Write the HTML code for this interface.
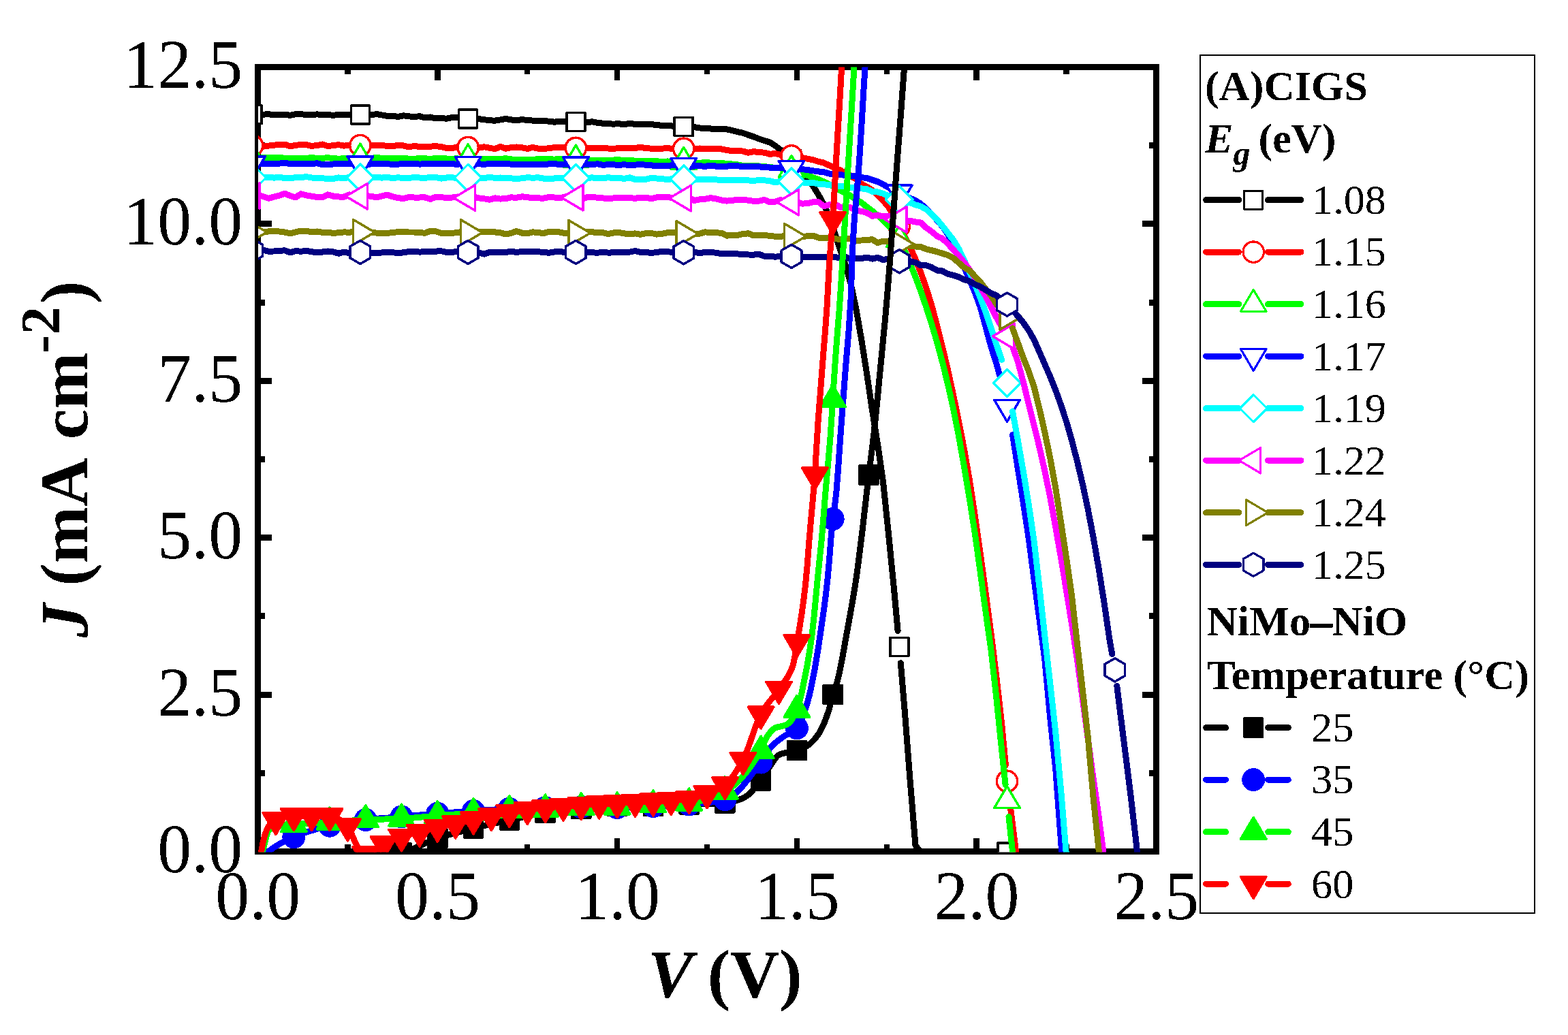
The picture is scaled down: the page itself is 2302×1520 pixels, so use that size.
<!DOCTYPE html>
<html lang="en"><head><meta charset="utf-8"><title>J-V curves</title>
<style>html,body{margin:0;padding:0;background:#fff}svg{display:block}text{font-family:"Liberation Serif",serif;fill:#000}</style></head><body>
<svg width="2302" height="1520" viewBox="0 0 2302 1520">
<rect width="2302" height="1520" fill="#fff"/>
<defs><filter id="bin" filterUnits="userSpaceOnUse" x="0" y="0" width="2302" height="1520" color-interpolation-filters="sRGB"><feComponentTransfer><feFuncA type="discrete" tableValues="0 1"/></feComponentTransfer></filter><clipPath id="plot"><rect x="379.0" y="98.5" width="1318.5" height="1153.0"/></clipPath></defs>
<g shape-rendering="crispEdges" fill="none" stroke="#000">
<rect x="378.5" y="98.5" width="1319.0" height="1152.0" stroke-width="9.0"/>
<path d="M378.5,1250.5v-19.5M378.5,98.5v19.5M510.4,1250.5v-10.3M510.4,98.5v10.3M642.3,1250.5v-19.5M642.3,98.5v19.5M774.2,1250.5v-10.3M774.2,98.5v10.3M906.1,1250.5v-19.5M906.1,98.5v19.5M1038,1250.5v-10.3M1038,98.5v10.3M1169.9,1250.5v-19.5M1169.9,98.5v19.5M1301.8,1250.5v-10.3M1301.8,98.5v10.3M1433.7,1250.5v-19.5M1433.7,98.5v19.5M1565.6,1250.5v-10.3M1565.6,98.5v10.3M1697.5,1250.5v-19.5M1697.5,98.5v19.5" stroke-width="8.5"/>
<path d="M378.5,1250.5h20.5M1697.5,1250.5h-20.5M378.5,1135.3h10.5M1697.5,1135.3h-10.5M378.5,1020.1h20.5M1697.5,1020.1h-20.5M378.5,904.9h10.5M1697.5,904.9h-10.5M378.5,789.7h20.5M1697.5,789.7h-20.5M378.5,674.5h10.5M1697.5,674.5h-10.5M378.5,559.3h20.5M1697.5,559.3h-20.5M378.5,444.1h10.5M1697.5,444.1h-10.5M378.5,328.9h20.5M1697.5,328.9h-20.5M378.5,213.7h10.5M1697.5,213.7h-10.5M378.5,98.5h20.5M1697.5,98.5h-20.5" stroke-width="9"/>
</g>
<g clip-path="url(#plot)" shape-rendering="crispEdges">
<path d="M378.5,168.2 386.4,168.1 394.3,167.8 402.2,168.6 410.2,168.2 418.1,168.1 426,169.4 433.9,167.7 441.8,167.6 449.7,168.6 457.6,168.4 465.6,167.9 473.5,168.4 481.4,168.5 489.3,169.4 497.2,168.2 505.1,168.3 513,168.3 521,169.5M536.8,168.3 544.7,169 552.6,167.5 560.5,168.9 568.4,170.4 576.4,170.1 584.3,171.6 592.2,169.8 600.1,170.8 608,171.6 615.9,170.7 623.8,172.8 631.7,172 639.7,173.9 647.6,173.6 655.5,174.2 663.4,172.7 671.3,172.5 679.2,174.3M695.1,174.8 703,174.7 710.9,175.7 718.8,176.8 726.7,177.2 734.6,175.9 742.5,174.5 750.5,175.9 758.4,176.9 766.3,175.5 774.2,176.6 782.1,177.1 790,177.2 797.9,177.7 805.9,178.1 813.8,179.2 821.7,178.2 829.6,178.6 837.5,178M853.3,180.8 861.3,180 869.2,178.8 877.1,180.3 885,181.2 892.9,181.8 900.8,182.1 908.7,181.8 916.7,182.7 924.6,181.2 932.5,182.5 940.4,182.8 948.3,182.2 956.2,182.3 964.1,183.9 972.1,184.1 980,184.2 987.9,185.2 995.8,186.9M1011.6,185.8 1019.5,186.6 1027.4,188 1035.4,188.2 1043.3,189 1051.2,189.6 1059.1,189.2 1067,189.8 1074.9,191.6 1082.8,193.5 1090.8,195.4 1098.7,198.2 1106.6,200.8 1114.5,204 1122.4,206.7 1130.3,209 1138.2,214.1 1146.2,220.3 1154.1,226.9M1169.9,242.8 1177.8,252.1 1185.7,262.8 1193.6,273.2 1201.6,286 1209.5,300.2 1217.4,318.6 1225.3,341.7 1233.2,365.5 1241.1,388.8 1249,416.4 1257,454.3 1264.9,500 1272.8,549.9 1280.7,603.9 1288.6,652.8 1296.5,707.3 1304.4,783.4 1312.4,864 1318.1,926.5M1322.3,973.7 1328.2,1043.7 1336.1,1145.7 1344,1241.6 1351.9,1251.5 1359.8,1250.9 1367.8,1251 1375.7,1251.1 1383.6,1250.7 1391.5,1251.1 1399.4,1251.8 1407.3,1251.8 1415.2,1251.8 1423.1,1251.3 1431.1,1252.2 1439,1252.8 1446.9,1251.6 1454.8,1252.4 1462.7,1253 1470.6,1251.4M1486.5,1251.2 1494.4,1251.7 1502.3,1252.3 1510.2,1252.4 1518.1,1251.9 1526,1251.7 1533.9,1252 1541.9,1251.7" fill="none" stroke="#000000" stroke-width="9.0" stroke-linejoin="round" stroke-linecap="round"/>
<path d="M357.1,154.6L384.1,154.6L384.1,181.6L357.1,181.6Z" fill="#fff" stroke="#000000" stroke-width="3.5" stroke-linejoin="round"/>
<path d="M515.4,155L542.4,155L542.4,182L515.4,182Z" fill="#fff" stroke="#000000" stroke-width="3.5" stroke-linejoin="round"/>
<path d="M673.6,161L700.6,161L700.6,188L673.6,188Z" fill="#fff" stroke="#000000" stroke-width="3.5" stroke-linejoin="round"/>
<path d="M831.9,165.6L858.9,165.6L858.9,192.6L831.9,192.6Z" fill="#fff" stroke="#000000" stroke-width="3.5" stroke-linejoin="round"/>
<path d="M990.2,172.6L1017.2,172.6L1017.2,199.6L990.2,199.6Z" fill="#fff" stroke="#000000" stroke-width="3.5" stroke-linejoin="round"/>
<path d="M1148.5,220.8L1175.5,220.8L1175.5,247.8L1148.5,247.8Z" fill="#fff" stroke="#000000" stroke-width="3.5" stroke-linejoin="round"/>
<path d="M1306.8,936.6L1333.8,936.6L1333.8,963.6L1306.8,963.6Z" fill="#fff" stroke="#000000" stroke-width="3.5" stroke-linejoin="round"/>
<path d="M1465,1237.9L1492,1237.9L1492,1264.9L1465,1264.9Z" fill="#fff" stroke="#000000" stroke-width="3.5" stroke-linejoin="round"/>
<path d="M378.5,213.9 386.4,215.2 394.3,214.1 402.2,213.1 410.2,212.7 418.1,212.1 426,214.8 433.9,213.3 441.8,212.5 449.7,212.7 457.6,214.4 465.6,213.5 473.5,212 481.4,214.7 489.3,213.5 497.2,212.7 505.1,214.1 513,213.3 521,214.5M536.8,214.5 544.7,213.7 552.6,213.9 560.5,213.1 568.4,214.7 576.4,214.5 584.3,213.6 592.2,213.9 600.1,215.8 608,214.5 615.9,215.4 623.8,215 631.7,215.2 639.7,214.6 647.6,215.6 655.5,217.6 663.4,217.6 671.3,215.9 679.2,216.5M695.1,216.1 703,217.2 710.9,215.8 718.8,217.2 726.7,218.7 734.6,215.3 742.5,218.2 750.5,216.6 758.4,216 766.3,216.7 774.2,218.5 782.1,216.4 790,218.2 797.9,218.5 805.9,217.7 813.8,216.6 821.7,216.9 829.6,216.6 837.5,217.6M853.3,218.4 861.3,217.9 869.2,217 877.1,217.7 885,217.2 892.9,218 900.8,218.2 908.7,217.7 916.7,217.9 924.6,217.3 932.5,217.5 940.4,216.3 948.3,217.8 956.2,218.1 964.1,218.9 972.1,218.2 980,217.5 987.9,218.7 995.8,218.4M1011.6,218.4 1019.5,219 1027.4,218 1035.4,218.8 1043.3,219 1051.2,218.6 1059.1,218.9 1067,220.6 1074.9,221.5 1082.8,221.3 1090.8,222.1 1098.7,224.3 1106.6,222.5 1114.5,223.8 1122.4,224.1 1130.3,226.4 1138.2,225.4 1146.2,227.4 1154.1,228.2M1169.9,230.4 1177.8,231.6 1185.7,233.3 1193.6,234.8 1201.6,237.3 1209.5,239.1 1217.4,242.9 1225.3,246.5 1233.2,249.8 1241.1,254 1249,258.3 1257,263.3 1264.9,270.2 1272.8,274.4 1280.7,279.4 1288.6,286.6 1296.5,294.6 1304.4,303.8 1312.4,317.6M1328.2,347.3 1336.1,362.7 1344,380.6 1351.9,400.5 1359.8,422.6 1367.8,448.5 1375.7,478 1383.6,509.4 1391.5,543 1399.4,579.1 1407.3,617.6 1415.2,658.2 1423.1,703.1 1431.1,755.6 1439,811.3 1446.9,869.2 1454.8,928.9 1462.7,992.3 1470.6,1062.1 1476.4,1123.7M1481.5,1170.8 1486.5,1210.1 1494.4,1272.7 1502.3,1342.6" fill="none" stroke="#ff0000" stroke-width="9.0" stroke-linejoin="round" stroke-linecap="round"/>
<path d="M355.4,213.7a15.2,15.2 0 1,0 30.4,0a15.2,15.2 0 1,0 -30.4,0Z" fill="#fff" stroke="#ff0000" stroke-width="3.5" stroke-linejoin="round"/>
<path d="M513.7,213.7a15.2,15.2 0 1,0 30.4,0a15.2,15.2 0 1,0 -30.4,0Z" fill="#fff" stroke="#ff0000" stroke-width="3.5" stroke-linejoin="round"/>
<path d="M671.9,216.5a15.2,15.2 0 1,0 30.4,0a15.2,15.2 0 1,0 -30.4,0Z" fill="#fff" stroke="#ff0000" stroke-width="3.5" stroke-linejoin="round"/>
<path d="M830.2,217.4a15.2,15.2 0 1,0 30.4,0a15.2,15.2 0 1,0 -30.4,0Z" fill="#fff" stroke="#ff0000" stroke-width="3.5" stroke-linejoin="round"/>
<path d="M988.5,218.3a15.2,15.2 0 1,0 30.4,0a15.2,15.2 0 1,0 -30.4,0Z" fill="#fff" stroke="#ff0000" stroke-width="3.5" stroke-linejoin="round"/>
<path d="M1146.8,228.9a15.2,15.2 0 1,0 30.4,0a15.2,15.2 0 1,0 -30.4,0Z" fill="#fff" stroke="#ff0000" stroke-width="3.5" stroke-linejoin="round"/>
<path d="M1305.1,332.6a15.2,15.2 0 1,0 30.4,0a15.2,15.2 0 1,0 -30.4,0Z" fill="#fff" stroke="#ff0000" stroke-width="3.5" stroke-linejoin="round"/>
<path d="M1463.3,1147.3a15.2,15.2 0 1,0 30.4,0a15.2,15.2 0 1,0 -30.4,0Z" fill="#fff" stroke="#ff0000" stroke-width="3.5" stroke-linejoin="round"/>
<path d="M378.5,232.4 386.4,231.7 394.3,231.2 402.2,232 410.2,231.4 418.1,232.3 426,232.1 433.9,232.2 441.8,233 449.7,232.2 457.6,231.8 465.6,232.2 473.5,232.3 481.4,231.6 489.3,232.8 497.2,233.1 505.1,232.8 513,233 521,231.9M536.8,232.8 544.7,232.8 552.6,231.2 560.5,232.6 568.4,232.9 576.4,232.5 584.3,232.3 592.2,232.5 600.1,233.1 608,233.3 615.9,232.5 623.8,232.7 631.7,233.6 639.7,232.4 647.6,232.4 655.5,233 663.4,233.1 671.3,232.9 679.2,233.4M695.1,233.1 703,233.9 710.9,233.2 718.8,234 726.7,233.6 734.6,233.5 742.5,232.7 750.5,233.9 758.4,234.4 766.3,234.1 774.2,234.3 782.1,234.2 790,233.8 797.9,233.6 805.9,233.2 813.8,234.3 821.7,233 829.6,233.1 837.5,234.3M853.3,234.8 861.3,234.6 869.2,235.8 877.1,235 885,235 892.9,235.4 900.8,235 908.7,234.8 916.7,235.6 924.6,235.6 932.5,236.1 940.4,236.4 948.3,236.2 956.2,236.1 964.1,236.7 972.1,237.8 980,236.9 987.9,237.9 995.8,237.5M1011.6,237.8 1019.5,238.8 1027.4,239.3 1035.4,238.4 1043.3,239.1 1051.2,239.3 1059.1,239.5 1067,240.3 1074.9,241 1082.8,241.8 1090.8,243.5 1098.7,243.5 1106.6,243.4 1114.5,244 1122.4,244.6 1130.3,245.6 1138.2,246.4 1146.2,247.1 1154.1,248.9M1169.9,252.3 1177.8,254.2 1185.7,257.7 1193.6,260.7 1201.6,263.4 1209.5,266.9 1217.4,271 1225.3,274.6 1233.2,279.6 1241.1,283.3 1249,287.8 1257,293.5 1264.9,297.7 1272.8,304 1280.7,309.8 1288.6,316.5 1296.5,323.3 1304.4,331.2 1312.4,341.1M1328.2,368 1336.1,387.4 1344,406.7 1351.9,427.9 1359.8,451 1367.8,476.1 1375.7,502.9 1383.6,532.1 1391.5,564.1 1399.4,599.4 1407.3,639.2 1415.2,683.7 1423.1,730.9 1431.1,781.9 1439,838.8 1446.9,897.3 1454.8,953.1 1462.7,1023.6 1470.6,1100.9 1476.1,1152.3M1481,1199.4 1486.5,1250.5 1494.4,1320.4" fill="none" stroke="#00ff00" stroke-width="9.0" stroke-linejoin="round" stroke-linecap="round"/>
<path d="M370.6,211L389.3,242.7L351.8,242.7Z" fill="#fff" stroke="#00ff00" stroke-width="3.5" stroke-linejoin="round"/>
<path d="M528.9,211.2L547.6,243L510.1,243Z" fill="#fff" stroke="#00ff00" stroke-width="3.5" stroke-linejoin="round"/>
<path d="M687.1,211.9L705.9,243.7L668.4,243.7Z" fill="#fff" stroke="#00ff00" stroke-width="3.5" stroke-linejoin="round"/>
<path d="M845.4,213.3L864.2,245L826.7,245Z" fill="#fff" stroke="#00ff00" stroke-width="3.5" stroke-linejoin="round"/>
<path d="M1003.7,216.5L1022.5,248.2L985,248.2Z" fill="#fff" stroke="#00ff00" stroke-width="3.5" stroke-linejoin="round"/>
<path d="M1162,228.5L1180.7,260.2L1143.2,260.2Z" fill="#fff" stroke="#00ff00" stroke-width="3.5" stroke-linejoin="round"/>
<path d="M1320.3,330.8L1339,362.5L1301.5,362.5Z" fill="#fff" stroke="#00ff00" stroke-width="3.5" stroke-linejoin="round"/>
<path d="M1478.5,1154.7L1497.3,1186.4L1459.8,1186.4Z" fill="#fff" stroke="#00ff00" stroke-width="3.5" stroke-linejoin="round"/>
<path d="M378.5,240.2 386.4,240.3 394.3,240.6 402.2,240.7 410.2,240.1 418.1,239.3 426,240.6 433.9,240.3 441.8,240.6 449.7,240.1 457.6,240.2 465.6,239.9 473.5,241.7 481.4,241 489.3,241 497.2,240.6 505.1,240.9 513,240.9 521,240.3M536.8,241.7 544.7,240.9 552.6,240.4 560.5,240.6 568.4,240.8 576.4,241.3 584.3,241.2 592.2,240.4 600.1,240.1 608,240.5 615.9,241.1 623.8,240.7 631.7,240.8 639.7,240.5 647.6,240.6 655.5,241 663.4,240.7 671.3,241.3 679.2,240.5M695.1,241.3 703,240.8 710.9,241.3 718.8,240.5 726.7,240.4 734.6,241 742.5,240.5 750.5,241.1 758.4,241.4 766.3,241.4 774.2,241.2 782.1,241.3 790,241.1 797.9,241.5 805.9,240.9 813.8,240.7 821.7,241.4 829.6,242 837.5,241.1M853.3,241.4 861.3,242 869.2,241.5 877.1,240.8 885,242.4 892.9,241.6 900.8,241.9 908.7,242.3 916.7,241.8 924.6,242.6 932.5,242.1 940.4,241.6 948.3,242.2 956.2,242.9 964.1,243.5 972.1,243.5 980,243.8 987.9,242.3 995.8,243.1M1011.6,244 1019.5,244 1027.4,243.8 1035.4,244.3 1043.3,243.1 1051.2,244.1 1059.1,244.5 1067,244.1 1074.9,243.6 1082.8,243.7 1090.8,244.7 1098.7,244.7 1106.6,244.9 1114.5,244.9 1122.4,245.3 1130.3,246.1 1138.2,246.6 1146.2,246.2 1154.1,247.1M1169.9,247.3 1177.8,248.7 1185.7,249.5 1193.6,250.8 1201.6,251.9 1209.5,252.7 1217.4,255 1225.3,256.5 1233.2,256.5 1241.1,257.5 1249,258.3 1257,259.1 1264.9,260.6 1272.8,261.6 1280.7,264.3 1288.6,266.9 1296.5,270.9 1304.4,275.1 1312.4,278.6M1328.2,287.3 1336.1,290.9 1344,294.5 1351.9,299.4 1359.8,306.7 1367.8,314.5 1375.7,323.5 1383.6,332.5 1391.5,344.2 1399.4,357.2 1407.3,373.5 1415.2,391.8 1423.1,410.5 1431.1,428.9 1439,450.5 1446.9,479.2 1454.8,508.8 1462.7,533.4 1470.6,562.2M1486.5,638.5 1494.4,688.7 1502.3,738.5 1510.2,790.4 1518.1,851.1 1526,910.1 1533.9,969.3 1541.9,1056 1549.8,1130.2 1557.7,1237.4 1565.6,1342.7" fill="none" stroke="#0000ff" stroke-width="9.0" stroke-linejoin="round" stroke-linecap="round"/>
<path d="M370.6,261.6L351.8,229.8L389.3,229.8Z" fill="#fff" stroke="#0000ff" stroke-width="3.5" stroke-linejoin="round"/>
<path d="M528.9,261.7L510.1,229.9L547.6,229.9Z" fill="#fff" stroke="#0000ff" stroke-width="3.5" stroke-linejoin="round"/>
<path d="M687.1,262L668.4,230.3L705.9,230.3Z" fill="#fff" stroke="#0000ff" stroke-width="3.5" stroke-linejoin="round"/>
<path d="M845.4,262.5L826.7,230.8L864.2,230.8Z" fill="#fff" stroke="#0000ff" stroke-width="3.5" stroke-linejoin="round"/>
<path d="M1003.7,264.4L985,232.6L1022.5,232.6Z" fill="#fff" stroke="#0000ff" stroke-width="3.5" stroke-linejoin="round"/>
<path d="M1162,268L1143.2,236.3L1180.7,236.3Z" fill="#fff" stroke="#0000ff" stroke-width="3.5" stroke-linejoin="round"/>
<path d="M1320.3,304L1301.5,272.2L1339,272.2Z" fill="#fff" stroke="#0000ff" stroke-width="3.5" stroke-linejoin="round"/>
<path d="M1478.5,619.2L1459.8,587.4L1497.3,587.4Z" fill="#fff" stroke="#0000ff" stroke-width="3.5" stroke-linejoin="round"/>
<path d="M378.5,260.4 386.4,260.9 394.3,260.2 402.2,261.1 410.2,260.5 418.1,261.4 426,261.8 433.9,260.7 441.8,260.7 449.7,259.6 457.6,261 465.6,261 473.5,261.8 481.4,262.5 489.3,262.5 497.2,260.9 505.1,261.8 513,260.4 521,259.9M536.8,259.9 544.7,260.7 552.6,260.3 560.5,261.1 568.4,260.4 576.4,261.6 584.3,260.8 592.2,261.4 600.1,261.3 608,260.7 615.9,261 623.8,261.2 631.7,260.7 639.7,260.5 647.6,262.1 655.5,261 663.4,260.7 671.3,261.7 679.2,261.1M695.1,260.4 703,261.3 710.9,261.4 718.8,260.5 726.7,261.3 734.6,261 742.5,262 750.5,261.9 758.4,262.5 766.3,261.8 774.2,260.7 782.1,261.2 790,260.8 797.9,262.1 805.9,262.3 813.8,262 821.7,261.2 829.6,261.3 837.5,261.6M853.3,261.7 861.3,261.7 869.2,260.8 877.1,262 885,261.7 892.9,260.7 900.8,261.6 908.7,261.4 916.7,262.4 924.6,260.8 932.5,263.5 940.4,263.3 948.3,263.2 956.2,261.4 964.1,262 972.1,262.7 980,263.6 987.9,262.6 995.8,262.7M1011.6,264.1 1019.5,264.1 1027.4,263.2 1035.4,263.1 1043.3,263.4 1051.2,263.7 1059.1,265 1067,264 1074.9,264.7 1082.8,264.3 1090.8,264 1098.7,264.9 1106.6,265.5 1114.5,264.4 1122.4,264.8 1130.3,265.8 1138.2,267.8 1146.2,266.3 1154.1,265.8M1169.9,267.2 1177.8,267.9 1185.7,268.4 1193.6,268.2 1201.6,270.2 1209.5,270.6 1217.4,271.9 1225.3,272 1233.2,274 1241.1,273.8 1249,275.2 1257,276.2 1264.9,276.9 1272.8,277.8 1280.7,281.3 1288.6,282 1296.5,284.4 1304.4,287.7 1312.4,289.4M1328.2,294.4 1336.1,297.7 1344,300.8 1351.9,303.1 1359.8,307.5 1367.8,314.8 1375.7,322.6 1383.6,331.9 1391.5,342 1399.4,352 1407.3,364.9 1415.2,381.7 1423.1,398.6 1431.1,417.2 1439,436.9 1446.9,457.9 1454.8,481.2 1462.7,505.4 1470.6,528.4M1486.5,603.9 1494.4,646.9 1502.3,692.3 1510.2,740.2 1518.1,794.5 1526,862.9 1533.9,934.6 1541.9,1005.1 1549.8,1076 1557.7,1161.3 1565.6,1257.2 1573.5,1365.2" fill="none" stroke="#00ffff" stroke-width="9.0" stroke-linejoin="round" stroke-linecap="round"/>
<path d="M370.6,241.1L390.5,261L370.6,280.9L350.7,261Z" fill="#fff" stroke="#00ffff" stroke-width="3.5" stroke-linejoin="round"/>
<path d="M528.9,241.2L548.8,261.1L528.9,281L509,261.1Z" fill="#fff" stroke="#00ffff" stroke-width="3.5" stroke-linejoin="round"/>
<path d="M687.1,241.4L707,261.3L687.1,281.2L667.2,261.3Z" fill="#fff" stroke="#00ffff" stroke-width="3.5" stroke-linejoin="round"/>
<path d="M845.4,241.7L865.3,261.6L845.4,281.5L825.5,261.6Z" fill="#fff" stroke="#00ffff" stroke-width="3.5" stroke-linejoin="round"/>
<path d="M1003.7,243L1023.6,262.9L1003.7,282.8L983.8,262.9Z" fill="#fff" stroke="#00ffff" stroke-width="3.5" stroke-linejoin="round"/>
<path d="M1162,246.6L1181.9,266.5L1162,286.4L1142.1,266.5Z" fill="#fff" stroke="#00ffff" stroke-width="3.5" stroke-linejoin="round"/>
<path d="M1320.3,273.1L1340.2,293L1320.3,312.9L1300.4,293Z" fill="#fff" stroke="#00ffff" stroke-width="3.5" stroke-linejoin="round"/>
<path d="M1478.5,542.6L1498.4,562.5L1478.5,582.4L1458.6,562.5Z" fill="#fff" stroke="#00ffff" stroke-width="3.5" stroke-linejoin="round"/>
<path d="M378.5,286.5 386.4,288.6 394.3,291.3 402.2,289.1 410.2,287.1 418.1,284.2 426,287.6 433.9,289.9 441.8,284.8 449.7,286.9 457.6,288.2 465.6,289.6 473.5,289.8 481.4,285.9 489.3,288.1 497.2,289 505.1,289.1 513,285.9 521,288.8M536.8,287.8 544.7,288.1 552.6,289.9 560.5,288 568.4,286.2 576.4,288.7 584.3,290.6 592.2,291.6 600.1,289.5 608,290 615.9,290 623.8,289.9 631.7,292.4 639.7,289.3 647.6,289.7 655.5,290.4 663.4,290.1 671.3,289 679.2,290.2M695.1,289 703,290.9 710.9,291.8 718.8,293.2 726.7,290.9 734.6,292.1 742.5,291.6 750.5,289.9 758.4,290.2 766.3,288.8 774.2,289.6 782.1,290.9 790,290.9 797.9,291.2 805.9,289.4 813.8,290 821.7,290.9 829.6,289 837.5,289.8M853.3,292.7 861.3,289.9 869.2,289.7 877.1,290.1 885,290.9 892.9,291.7 900.8,290.9 908.7,290.1 916.7,290.5 924.6,290.7 932.5,291.3 940.4,290.2 948.3,290.2 956.2,291.8 964.1,289.8 972.1,289.4 980,289.4 987.9,290.9 995.8,291.4M1011.6,290.3 1019.5,294.5 1027.4,292.7 1035.4,292.3 1043.3,290.6 1051.2,291.9 1059.1,293.9 1067,295.1 1074.9,294.4 1082.8,293.3 1090.8,293.4 1098.7,294.2 1106.6,295.4 1114.5,295.1 1122.4,293.5 1130.3,296.9 1138.2,296.1 1146.2,293.7 1154.1,295.4M1169.9,296.7 1177.8,299.1 1185.7,298.8 1193.6,296.8 1201.6,296.6 1209.5,302.8 1217.4,300.9 1225.3,299.3 1233.2,304.1 1241.1,305.1 1249,304.8 1257,309.4 1264.9,310.3 1272.8,312.6 1280.7,317.3 1288.6,316 1296.5,317.9 1304.4,317.9 1312.4,317.4M1328.2,324.1 1336.1,324.3 1344,325.9 1351.9,327.1 1359.8,334.5 1367.8,340.1 1375.7,346.8 1383.6,350.4 1391.5,357.9 1399.4,366.5 1407.3,375.4 1415.2,384.8 1423.1,395.7 1431.1,407.7 1439,421.6 1446.9,434.8 1454.8,450 1462.7,465.9 1470.6,480.2M1486.5,508.9 1494.4,531.4 1502.3,560.9 1510.2,593.1 1518.1,624.9 1526,657 1533.9,691.9 1541.9,731.1 1549.8,774.8 1557.7,820.1 1565.6,867.7 1573.5,916.6 1581.4,968.2 1589.3,1025.9 1597.3,1085.3 1605.2,1144.1 1613.1,1199.4 1621,1259.7 1628.9,1342.7" fill="none" stroke="#ff00ff" stroke-width="9.0" stroke-linejoin="round" stroke-linecap="round"/>
<path d="M349.4,287.4L381.2,268.7L381.2,306.2Z" fill="#fff" stroke="#ff00ff" stroke-width="3.5" stroke-linejoin="round"/>
<path d="M507.7,288.3L539.4,269.6L539.4,307.1Z" fill="#fff" stroke="#ff00ff" stroke-width="3.5" stroke-linejoin="round"/>
<path d="M666,290.6L697.7,271.8L697.7,309.3Z" fill="#fff" stroke="#ff00ff" stroke-width="3.5" stroke-linejoin="round"/>
<path d="M824.3,290.2L856,271.4L856,308.9Z" fill="#fff" stroke="#ff00ff" stroke-width="3.5" stroke-linejoin="round"/>
<path d="M982.5,291.1L1014.3,272.4L1014.3,309.9Z" fill="#fff" stroke="#ff00ff" stroke-width="3.5" stroke-linejoin="round"/>
<path d="M1140.8,297.1L1172.6,278.4L1172.6,315.9Z" fill="#fff" stroke="#ff00ff" stroke-width="3.5" stroke-linejoin="round"/>
<path d="M1299.1,322.4L1330.8,303.7L1330.8,341.2Z" fill="#fff" stroke="#ff00ff" stroke-width="3.5" stroke-linejoin="round"/>
<path d="M1457.4,493.9L1489.1,475.1L1489.1,512.6Z" fill="#fff" stroke="#ff00ff" stroke-width="3.5" stroke-linejoin="round"/>
<path d="M378.5,341.9 386.4,341.2 394.3,339.9 402.2,339.8 410.2,340 418.1,341.1 426,342.8 433.9,340.9 441.8,339 449.7,339.3 457.6,340.9 465.6,340 473.5,341.3 481.4,341.1 489.3,342.5 497.2,341.7 505.1,340.9 513,341.2 521,340.1M536.8,339 544.7,341.2 552.6,342.1 560.5,342.1 568.4,342.5 576.4,341.4 584.3,340.7 592.2,340.9 600.1,341 608,341 615.9,341.4 623.8,342.3 631.7,339.3 639.7,339.7 647.6,342.3 655.5,342.8 663.4,342.4 671.3,341.6 679.2,339.9M695.1,340 703,340 710.9,340 718.8,340.5 726.7,340.9 734.6,341.8 742.5,344 750.5,342.3 758.4,339.6 766.3,342.1 774.2,342.8 782.1,340.8 790,341.6 797.9,342.6 805.9,340.2 813.8,340.9 821.7,341 829.6,342.6 837.5,341.6M853.3,341.1 861.3,340.6 869.2,340.6 877.1,341.9 885,341.5 892.9,343.7 900.8,341.9 908.7,341.5 916.7,342.9 924.6,343.7 932.5,342.9 940.4,344.3 948.3,342.7 956.2,342.4 964.1,344.1 972.1,343.2 980,341.8 987.9,341.6 995.8,341.8M1011.6,343.9 1019.5,344.1 1027.4,343 1035.4,340.8 1043.3,341.7 1051.2,341.8 1059.1,342.2 1067,346.2 1074.9,345.3 1082.8,345.4 1090.8,343.6 1098.7,342.8 1106.6,345.9 1114.5,345.8 1122.4,345.2 1130.3,346.6 1138.2,347.2 1146.2,347.6 1154.1,345.9M1169.9,346.1 1177.8,347.2 1185.7,346.9 1193.6,346.1 1201.6,349 1209.5,350 1217.4,348.8 1225.3,350.8 1233.2,351.2 1241.1,350.8 1249,350.9 1257,353.1 1264.9,353 1272.8,352.3 1280.7,351.8 1288.6,356.6 1296.5,354.1 1304.4,354.9 1312.4,358.5M1328.2,359.3 1336.1,361.1 1344,362 1351.9,362.6 1359.8,365.8 1367.8,367.7 1375.7,369.7 1383.6,372.2 1391.5,374.7 1399.4,378.8 1407.3,385.7 1415.2,392.7 1423.1,397.1 1431.1,405.5 1439,414 1446.9,424.1 1454.8,433.9 1462.7,446.4 1470.6,456.1M1486.5,482 1494.4,503.6 1502.3,525.5 1510.2,545 1518.1,568.3 1526,600.1 1533.9,635.1 1541.9,673.5 1549.8,717.2 1557.7,767.7 1565.6,819.7 1573.5,874.9 1581.4,944.7 1589.3,1012.5 1597.3,1083.2 1605.2,1172.4 1613.1,1248.1 1621,1319.7" fill="none" stroke="#808000" stroke-width="9.0" stroke-linejoin="round" stroke-linecap="round"/>
<path d="M391.8,340.9L360,359.6L360,322.1Z" fill="#fff" stroke="#808000" stroke-width="3.5" stroke-linejoin="round"/>
<path d="M550,341.1L518.3,359.8L518.3,322.3Z" fill="#fff" stroke="#808000" stroke-width="3.5" stroke-linejoin="round"/>
<path d="M708.3,341.5L676.6,360.3L676.6,322.8Z" fill="#fff" stroke="#808000" stroke-width="3.5" stroke-linejoin="round"/>
<path d="M866.6,342.2L834.8,360.9L834.8,323.4Z" fill="#fff" stroke="#808000" stroke-width="3.5" stroke-linejoin="round"/>
<path d="M1024.9,343.4L993.1,362.1L993.1,324.6Z" fill="#fff" stroke="#808000" stroke-width="3.5" stroke-linejoin="round"/>
<path d="M1183.2,347.1L1151.4,365.8L1151.4,328.3Z" fill="#fff" stroke="#808000" stroke-width="3.5" stroke-linejoin="round"/>
<path d="M1341.4,358.4L1309.7,377.1L1309.7,339.6Z" fill="#fff" stroke="#808000" stroke-width="3.5" stroke-linejoin="round"/>
<path d="M1499.7,465.3L1468,484L1468,446.5Z" fill="#fff" stroke="#808000" stroke-width="3.5" stroke-linejoin="round"/>
<path d="M378.5,367.4 386.4,367.2 394.3,369.1 402.2,369 410.2,368.3 418.1,367.8 426,370.9 433.9,368.5 441.8,369.3 449.7,368.2 457.6,369.8 465.6,370.6 473.5,370 481.4,369 489.3,369.9 497.2,372.2 505.1,370.1 513,371.6 521,371.4M536.8,372.1 544.7,371.7 552.6,371.4 560.5,371 568.4,370.5 576.4,370.7 584.3,371.7 592.2,370.8 600.1,369.6 608,369.4 615.9,370.1 623.8,369.8 631.7,369.5 639.7,369.1 647.6,368.7 655.5,370.4 663.4,370.7 671.3,369.1 679.2,368.8M695.1,372.2 703,370.9 710.9,373.2 718.8,370.2 726.7,370.2 734.6,370.3 742.5,370.5 750.5,369.3 758.4,370.4 766.3,369.5 774.2,369.7 782.1,370 790,369.9 797.9,370.2 805.9,371.3 813.8,369.9 821.7,369.6 829.6,370.4 837.5,369.8M853.3,371.3 861.3,370.7 869.2,370.8 877.1,371.2 885,370.3 892.9,371.1 900.8,370.9 908.7,370.3 916.7,370.1 924.6,370.1 932.5,368.5 940.4,370.6 948.3,370.4 956.2,371.6 964.1,370.4 972.1,369.5 980,369.4 987.9,371 995.8,371M1011.6,370.7 1019.5,370.1 1027.4,371.8 1035.4,370.2 1043.3,370.4 1051.2,371.2 1059.1,372.7 1067,372.7 1074.9,372.6 1082.8,372.9 1090.8,373.5 1098.7,374 1106.6,374.1 1114.5,373.3 1122.4,376.4 1130.3,376.7 1138.2,377.1 1146.2,376.7 1154.1,377.7M1169.9,376.4 1177.8,377 1185.7,377.6 1193.6,377.1 1201.6,377.1 1209.5,377.2 1217.4,378.2 1225.3,377.3 1233.2,379.1 1241.1,377.2 1249,380.6 1257,379.2 1264.9,379.5 1272.8,378.1 1280.7,380.1 1288.6,378.3 1296.5,381.6 1304.4,380.1 1312.4,382M1328.2,384.3 1336.1,383.6 1344,385.5 1351.9,389.8 1359.8,389.7 1367.8,392.6 1375.7,397 1383.6,398 1391.5,402.2 1399.4,404.2 1407.3,406.8 1415.2,410.5 1423.1,412.8 1431.1,417.6 1439,421 1446.9,425.7 1454.8,430.3 1462.7,434 1470.6,440.6M1486.5,455.1 1494.4,464.3 1502.3,473.9 1510.2,485.1 1518.1,499 1526,516.8 1533.9,535 1541.9,553.4 1549.8,573.1 1557.7,595.1 1565.6,619.2 1573.5,646.7 1581.4,677.2 1589.3,710.5 1597.3,748.2 1605.2,789.4 1613.1,835.2 1621,885 1628.9,939 1632.7,960.5M1639.8,1007.4 1644.7,1047.4 1652.7,1110.3 1660.6,1173.5 1668.5,1241.5 1676.4,1324.2" fill="none" stroke="#000080" stroke-width="9.0" stroke-linejoin="round" stroke-linecap="round"/>
<path d="M370.6,350.7L385.4,359.2L385.4,376.3L370.6,384.9L355.8,376.3L355.8,359.2Z" fill="#fff" stroke="#000080" stroke-width="3.5" stroke-linejoin="round"/>
<path d="M528.9,353.3L543.7,361.8L543.7,378.9L528.9,387.5L514.1,378.9L514.1,361.8Z" fill="#fff" stroke="#000080" stroke-width="3.5" stroke-linejoin="round"/>
<path d="M687.1,353.3L702,361.8L702,378.9L687.1,387.5L672.3,378.9L672.3,361.8Z" fill="#fff" stroke="#000080" stroke-width="3.5" stroke-linejoin="round"/>
<path d="M845.4,353.3L860.2,361.8L860.2,378.9L845.4,387.5L830.6,378.9L830.6,361.8Z" fill="#fff" stroke="#000080" stroke-width="3.5" stroke-linejoin="round"/>
<path d="M1003.7,353.6L1018.5,362.2L1018.5,379.3L1003.7,387.8L988.9,379.3L988.9,362.2Z" fill="#fff" stroke="#000080" stroke-width="3.5" stroke-linejoin="round"/>
<path d="M1162,359.3L1176.8,367.8L1176.8,384.9L1162,393.5L1147.2,384.9L1147.2,367.8Z" fill="#fff" stroke="#000080" stroke-width="3.5" stroke-linejoin="round"/>
<path d="M1320.3,366.6L1335.1,375.2L1335.1,392.3L1320.3,400.8L1305.5,392.3L1305.5,375.2Z" fill="#fff" stroke="#000080" stroke-width="3.5" stroke-linejoin="round"/>
<path d="M1478.5,430L1493.4,438.6L1493.4,455.7L1478.5,464.2L1463.7,455.7L1463.7,438.6Z" fill="#fff" stroke="#000080" stroke-width="3.5" stroke-linejoin="round"/>
<path d="M1636.8,966.8L1651.6,975.3L1651.6,992.4L1636.8,1001L1622,992.4L1622,975.3Z" fill="#fff" stroke="#000080" stroke-width="3.5" stroke-linejoin="round"/>
<path d="M378.5,1278.1 381.1,1278 383.8,1277.9 386.4,1277.7 389.1,1277.5 391.7,1277.4 394.3,1277.2 397,1277 399.6,1276.8 402.2,1276.7 404.9,1276.5 407.5,1276.3 410.2,1276.1 412.8,1275.8 415.4,1275.6 418.1,1275.4 420.7,1275.2 423.3,1274.9 426,1274.7 428.6,1274.5 431.3,1274.2 433.9,1274 436.5,1273.7 439.2,1273.5 441.8,1273.2 444.4,1272.9 447.1,1272.7 449.7,1272.4 452.4,1272.1 455,1271.8 457.6,1271.5 460.3,1271.2 462.9,1270.9 465.6,1270.6 468.2,1270.3 470.8,1270 473.5,1269.7 476.1,1269.4 478.7,1269.1 481.4,1268.8 484,1268.5 486.7,1268.1 489.3,1267.8 491.9,1267.5 494.6,1267.1 497.2,1266.8 499.8,1266.5 502.5,1266.1 505.1,1265.8 507.8,1265.4 510.4,1265.1 513,1264.8 515.7,1264.4 518.3,1264.1 521,1263.7 523.6,1263.3 526.2,1263 528.9,1262.6 531.5,1262.3 534.1,1261.9 536.8,1261.6 539.4,1261.2 542.1,1260.8 544.7,1260.5 547.3,1260.1 550,1259.7 552.6,1259.3 555.2,1258.9 557.9,1258.5 560.5,1258.1 563.2,1257.7 565.8,1257.2 568.4,1256.7 571.1,1256.3 573.7,1255.8 576.4,1255.3 579,1254.7 581.6,1254.2 584.3,1253.6 586.9,1253 589.5,1252.3 592.2,1251.7 594.8,1250.9 597.5,1250 600.1,1249.1 602.7,1248 605.4,1247 608,1245.9 610.6,1244.7 613.3,1243.5 615.9,1242.3 618.6,1241.1 621.2,1239.9 623.8,1238.7 626.5,1237.5 629.1,1236.3 631.7,1235.2 634.4,1234.1 637,1233 639.7,1232.1 642.3,1231.1 644.9,1230.3 647.6,1229.4 650.2,1228.6 652.9,1227.8 655.5,1227 658.1,1226.2 660.8,1225.5 663.4,1224.7 666,1224 668.7,1223.3 671.3,1222.5 674,1221.8 676.6,1221.1 679.2,1220.4 681.9,1219.7 684.5,1219.1 687.1,1218.4 689.8,1217.7 692.4,1217.1 695.1,1216.4 697.7,1215.7 700.3,1215.1 703,1214.5 705.6,1213.8 708.2,1213.2 710.9,1212.6 713.5,1212 716.2,1211.4 718.8,1210.8 721.4,1210.2 724.1,1209.6 726.7,1209 729.4,1208.4 732,1207.8 734.6,1207.3 737.3,1206.7 739.9,1206.1 742.5,1205.6 745.2,1205 747.8,1204.4 750.5,1203.8 753.1,1203.3 755.7,1202.7 758.4,1202.1 761,1201.5 763.6,1200.9 766.3,1200.3 768.9,1199.7 771.6,1199.1 774.2,1198.6 776.8,1198 779.5,1197.4 782.1,1196.9 784.8,1196.4 787.4,1195.9 790,1195.4 792.7,1194.9 795.3,1194.4 797.9,1194 800.6,1193.6 803.2,1193.3 805.9,1192.9 808.5,1192.6 811.1,1192.2 813.8,1191.9 816.4,1191.6 819,1191.2 821.7,1190.9 824.3,1190.6 827,1190.4 829.6,1190.1 832.2,1189.8 834.9,1189.5 837.5,1189.3 840.2,1189 842.8,1188.8 845.4,1188.5 848.1,1188.3 850.7,1188.1 853.3,1187.8 856,1187.6 858.6,1187.4 861.3,1187.1 863.9,1186.9 866.5,1186.6 869.2,1186.4 871.8,1186.1 874.4,1185.9 877.1,1185.6 879.7,1185.4 882.4,1185.2 885,1185 887.6,1184.8 890.3,1184.7 892.9,1184.5 895.5,1184.4 898.2,1184.3 900.8,1184.2 903.5,1184.2 906.1,1184.1 908.7,1184.1 911.4,1184.1 914,1184.1 916.7,1184.1 919.3,1184.1 921.9,1184.1 924.6,1184.1 927.2,1184.1 929.8,1184.1 932.5,1184.1 935.1,1184.1 937.8,1184.1 940.4,1184.1 943,1184.1 945.7,1184.1 948.3,1184.1 950.9,1184.1 953.6,1184.1 956.2,1184.1 958.9,1184.1 961.5,1184.1 964.1,1184.1 966.8,1184 969.4,1183.9 972.1,1183.8 974.7,1183.7 977.3,1183.6 980,1183.4 982.6,1183.2 985.2,1183.1 987.9,1182.9 990.5,1182.7 993.2,1182.5 995.8,1182.3 998.4,1182.1 1001.1,1182 1003.7,1181.8 1006.3,1181.6 1009,1181.5 1011.6,1181.4 1014.3,1181.3 1016.9,1181.2 1019.5,1181.1 1022.2,1181 1024.8,1180.9 1027.4,1180.8 1030.1,1180.8 1032.7,1180.7 1035.4,1180.6 1038,1180.6 1040.6,1180.5 1043.3,1180.4 1045.9,1180.3 1048.6,1180.2 1051.2,1180.1 1053.8,1180 1056.5,1179.9 1059.1,1179.7 1061.7,1179.5 1064.4,1179.4 1067,1179.1 1069.7,1178.7 1072.3,1178.2 1074.9,1177.6 1077.6,1176.9 1080.2,1176.1 1082.8,1175.2 1085.5,1174.3 1088.1,1173.3 1090.8,1172.2 1093.4,1170.8 1096,1169.1 1098.7,1167 1101.3,1164.6 1104,1161.9 1106.6,1159 1109.2,1156 1111.9,1152.8 1114.5,1149.6 1117.1,1146.4 1119.8,1142.8 1122.4,1138.6 1125.1,1134.2 1127.7,1129.7 1130.3,1125.4 1133,1121.5 1135.6,1117.7 1138.2,1113.8 1140.9,1110.6 1143.5,1108.6 1146.2,1107.5 1148.8,1106.7 1151.4,1106 1154.1,1105.4 1156.7,1104.9 1159.3,1104.5 1162,1104 1164.6,1103.5 1167.3,1102.9 1169.9,1102.1 1172.5,1101.2 1175.2,1100.2 1177.8,1099.1 1180.5,1097.8 1183.1,1096.4 1185.7,1094.7 1188.4,1092.9 1191,1090.6 1193.6,1088 1196.3,1085.1 1198.9,1081.8 1201.6,1078.2 1204.2,1073.9 1206.8,1068.8 1209.5,1063 1212.1,1056.4 1214.7,1049.2 1217.4,1041.3 1220,1030.9 1222.7,1020.1 1225.3,1012.3 1227.9,1005 1230.6,995.8 1233.2,984.1 1235.8,970.6 1238.5,956.1 1241.1,941.2 1243.8,926.5 1246.4,912.1 1249,897.7 1251.7,882.7 1254.3,866.9 1257,849.7 1259.6,830.7 1262.2,810.1 1264.9,788.7 1267.5,766.8 1270.1,743.7 1272.8,720.3 1275.4,697.5 1278.1,676.4 1280.7,655.7 1283.3,633.3 1286,608.4 1288.6,581.7 1291.2,554.1 1293.9,526.7 1296.5,499.6 1299.2,471.9 1301.8,442.6 1304.4,410.8 1307.1,376 1309.7,339.4 1312.4,302.4 1315,266.2 1317.6,231.3 1320.3,196.8 1322.9,162.2 1325.5,126.9 1328.2,90.5 1330.8,53.4 1333.5,15.6" fill="none" stroke="#000000" stroke-width="9.0" stroke-linejoin="round" stroke-linecap="round"/>
<path d="M417.8,1260.7L444.8,1260.7L444.8,1287.7L417.8,1287.7Z" fill="#000000" stroke="#000000" stroke-width="3.5" stroke-linejoin="round"/>
<path d="M470.5,1255L497.5,1255L497.5,1282L470.5,1282Z" fill="#000000" stroke="#000000" stroke-width="3.5" stroke-linejoin="round"/>
<path d="M523.3,1248.1L550.3,1248.1L550.3,1275.1L523.3,1275.1Z" fill="#000000" stroke="#000000" stroke-width="3.5" stroke-linejoin="round"/>
<path d="M576,1238.8L603,1238.8L603,1265.8L576,1265.8Z" fill="#000000" stroke="#000000" stroke-width="3.5" stroke-linejoin="round"/>
<path d="M628.8,1217.6L655.8,1217.6L655.8,1244.6L628.8,1244.6Z" fill="#000000" stroke="#000000" stroke-width="3.5" stroke-linejoin="round"/>
<path d="M681.6,1202.9L708.6,1202.9L708.6,1229.9L681.6,1229.9Z" fill="#000000" stroke="#000000" stroke-width="3.5" stroke-linejoin="round"/>
<path d="M734.3,1190.9L761.3,1190.9L761.3,1217.9L734.3,1217.9Z" fill="#000000" stroke="#000000" stroke-width="3.5" stroke-linejoin="round"/>
<path d="M787.1,1180.1L814.1,1180.1L814.1,1207.1L787.1,1207.1Z" fill="#000000" stroke="#000000" stroke-width="3.5" stroke-linejoin="round"/>
<path d="M839.8,1174.3L866.8,1174.3L866.8,1201.3L839.8,1201.3Z" fill="#000000" stroke="#000000" stroke-width="3.5" stroke-linejoin="round"/>
<path d="M892.6,1170.6L919.6,1170.6L919.6,1197.6L892.6,1197.6Z" fill="#000000" stroke="#000000" stroke-width="3.5" stroke-linejoin="round"/>
<path d="M945.4,1170.6L972.4,1170.6L972.4,1197.6L945.4,1197.6Z" fill="#000000" stroke="#000000" stroke-width="3.5" stroke-linejoin="round"/>
<path d="M998.1,1167.9L1025.1,1167.9L1025.1,1194.9L998.1,1194.9Z" fill="#000000" stroke="#000000" stroke-width="3.5" stroke-linejoin="round"/>
<path d="M1050.9,1165.9L1077.9,1165.9L1077.9,1192.9L1050.9,1192.9Z" fill="#000000" stroke="#000000" stroke-width="3.5" stroke-linejoin="round"/>
<path d="M1103.6,1132.9L1130.6,1132.9L1130.6,1159.9L1103.6,1159.9Z" fill="#000000" stroke="#000000" stroke-width="3.5" stroke-linejoin="round"/>
<path d="M1156.4,1088.6L1183.4,1088.6L1183.4,1115.6L1156.4,1115.6Z" fill="#000000" stroke="#000000" stroke-width="3.5" stroke-linejoin="round"/>
<path d="M1209.2,1006.6L1236.2,1006.6L1236.2,1033.6L1209.2,1033.6Z" fill="#000000" stroke="#000000" stroke-width="3.5" stroke-linejoin="round"/>
<path d="M1261.9,684L1288.9,684L1288.9,711L1261.9,711Z" fill="#000000" stroke="#000000" stroke-width="3.5" stroke-linejoin="round"/>
<path d="M378.5,1268.9 381.1,1265.4 383.8,1262 386.4,1258.7 389.1,1255.6 391.7,1252.8 394.3,1250.5 397,1248.4 399.6,1246.5 402.2,1244.6 404.9,1242.9 407.5,1241.2 410.2,1239.6 412.8,1238.1 415.4,1236.7 418.1,1235.3 420.7,1234 423.3,1232.8 426,1231.6 428.6,1230.4 431.3,1229.3 433.9,1228.2 436.5,1227.2 439.2,1226.2 441.8,1225.2 444.4,1224.2 447.1,1223.2 449.7,1222.3 452.4,1221.4 455,1220.6 457.6,1219.7 460.3,1218.9 462.9,1218.1 465.6,1217.3 468.2,1216.6 470.8,1215.9 473.5,1215.2 476.1,1214.5 478.7,1213.9 481.4,1213.3 484,1212.7 486.7,1212.1 489.3,1211.6 491.9,1211.1 494.6,1210.5 497.2,1210 499.8,1209.5 502.5,1209 505.1,1208.6 507.8,1208.1 510.4,1207.7 513,1207.2 515.7,1206.8 518.3,1206.4 521,1206 523.6,1205.6 526.2,1205.3 528.9,1204.9 531.5,1204.6 534.1,1204.3 536.8,1204 539.4,1203.7 542.1,1203.4 544.7,1203.1 547.3,1202.9 550,1202.6 552.6,1202.4 555.2,1202.1 557.9,1201.9 560.5,1201.7 563.2,1201.5 565.8,1201.3 568.4,1201.1 571.1,1200.9 573.7,1200.6 576.4,1200.4 579,1200.2 581.6,1200 584.3,1199.8 586.9,1199.6 589.5,1199.4 592.2,1199.1 594.8,1198.9 597.5,1198.7 600.1,1198.4 602.7,1198.2 605.4,1197.9 608,1197.7 610.6,1197.5 613.3,1197.2 615.9,1197 618.6,1196.7 621.2,1196.5 623.8,1196.3 626.5,1196.1 629.1,1195.8 631.7,1195.6 634.4,1195.4 637,1195.2 639.7,1195 642.3,1194.7 644.9,1194.5 647.6,1194.3 650.2,1194.1 652.9,1193.9 655.5,1193.8 658.1,1193.6 660.8,1193.4 663.4,1193.2 666,1193 668.7,1192.8 671.3,1192.6 674,1192.5 676.6,1192.3 679.2,1192.1 681.9,1191.9 684.5,1191.7 687.1,1191.6 689.8,1191.4 692.4,1191.2 695.1,1191.1 697.7,1190.9 700.3,1190.7 703,1190.5 705.6,1190.4 708.2,1190.2 710.9,1190 713.5,1189.8 716.2,1189.7 718.8,1189.5 721.4,1189.3 724.1,1189.1 726.7,1189 729.4,1188.8 732,1188.7 734.6,1188.5 737.3,1188.4 739.9,1188.2 742.5,1188.1 745.2,1188 747.8,1187.8 750.5,1187.7 753.1,1187.6 755.7,1187.5 758.4,1187.4 761,1187.3 763.6,1187.2 766.3,1187.1 768.9,1187 771.6,1186.9 774.2,1186.8 776.8,1186.7 779.5,1186.6 782.1,1186.5 784.8,1186.4 787.4,1186.3 790,1186.3 792.7,1186.2 795.3,1186.1 797.9,1186.1 800.6,1186 803.2,1185.9 805.9,1185.9 808.5,1185.8 811.1,1185.7 813.8,1185.7 816.4,1185.6 819,1185.5 821.7,1185.5 824.3,1185.4 827,1185.4 829.6,1185.3 832.2,1185.3 834.9,1185.2 837.5,1185.2 840.2,1185.2 842.8,1185.1 845.4,1185.1 848.1,1185.1 850.7,1185.1 853.3,1185.1 856,1185.1 858.6,1185.1 861.3,1185.1 863.9,1185.2 866.5,1185.2 869.2,1185.3 871.8,1185.3 874.4,1185.4 877.1,1185.5 879.7,1185.5 882.4,1185.6 885,1185.7 887.6,1185.7 890.3,1185.8 892.9,1185.8 895.5,1185.9 898.2,1185.9 900.8,1186 903.5,1186 906.1,1186 908.7,1186 911.4,1186 914,1185.9 916.7,1185.9 919.3,1185.8 921.9,1185.7 924.6,1185.6 927.2,1185.6 929.8,1185.5 932.5,1185.3 935.1,1185.2 937.8,1185.1 940.4,1185 943,1184.9 945.7,1184.7 948.3,1184.6 950.9,1184.5 953.6,1184.4 956.2,1184.3 958.9,1184.1 961.5,1184 964.1,1183.9 966.8,1183.8 969.4,1183.7 972.1,1183.6 974.7,1183.5 977.3,1183.4 980,1183.2 982.6,1183.1 985.2,1183 987.9,1182.9 990.5,1182.7 993.2,1182.6 995.8,1182.4 998.4,1182.3 1001.1,1182.1 1003.7,1181.9 1006.3,1181.8 1009,1181.6 1011.6,1181.4 1014.3,1181.2 1016.9,1181 1019.5,1180.8 1022.2,1180.5 1024.8,1180.3 1027.4,1180.1 1030.1,1179.8 1032.7,1179.5 1035.4,1179.2 1038,1178.9 1040.6,1178.6 1043.3,1178.2 1045.9,1177.8 1048.6,1177.4 1051.2,1177 1053.8,1176.5 1056.5,1176 1059.1,1175.5 1061.7,1174.9 1064.4,1174.3 1067,1173.5 1069.7,1172.3 1072.3,1170.9 1074.9,1169.1 1077.6,1167.1 1080.2,1164.9 1082.8,1162.4 1085.5,1159.7 1088.1,1156.8 1090.8,1153.8 1093.4,1150.6 1096,1147.4 1098.7,1144 1101.3,1140.5 1104,1137 1106.6,1133.5 1109.2,1130 1111.9,1126.5 1114.5,1123 1117.1,1119.6 1119.8,1115.9 1122.4,1111.7 1125.1,1107.3 1127.7,1103 1130.3,1099.2 1133,1096.2 1135.6,1093.5 1138.2,1091.1 1140.9,1088.8 1143.5,1086.7 1146.2,1084.7 1148.8,1082.8 1151.4,1081 1154.1,1079.5 1156.7,1078.2 1159.3,1076.8 1162,1075.4 1164.6,1073.8 1167.3,1071.8 1169.9,1069.3 1172.5,1065.7 1175.2,1060.7 1177.8,1054.3 1180.5,1047.1 1183.1,1039.1 1185.7,1030.7 1188.4,1020.7 1191,1008.8 1193.6,995.7 1196.3,981.8 1198.9,966.5 1201.6,949.8 1204.2,932.2 1206.8,914.2 1209.5,895.8 1212.1,875.9 1214.7,853.3 1217.4,823.8 1220,790.2 1222.7,762.1 1225.3,744.5 1227.9,722.4 1230.6,688.1 1233.2,649.8 1235.8,614.3 1238.5,579.5 1241.1,544.6 1243.8,512.3 1246.4,481.4 1249,440 1251.7,364.1 1254.3,322.4 1257,291.9 1259.6,262.9 1262.2,226.5 1264.9,183.7 1267.5,139.4 1270.1,97.2 1272.8,56 1275.4,15.6" fill="none" stroke="#0000ff" stroke-width="9.0" stroke-linejoin="round" stroke-linecap="round"/>
<path d="M416.1,1229.3a15.2,15.2 0 1,0 30.4,0a15.2,15.2 0 1,0 -30.4,0Z" fill="#0000ff" stroke="#0000ff" stroke-width="3.5" stroke-linejoin="round"/>
<path d="M468.8,1212.7a15.2,15.2 0 1,0 30.4,0a15.2,15.2 0 1,0 -30.4,0Z" fill="#0000ff" stroke="#0000ff" stroke-width="3.5" stroke-linejoin="round"/>
<path d="M521.6,1204a15.2,15.2 0 1,0 30.4,0a15.2,15.2 0 1,0 -30.4,0Z" fill="#0000ff" stroke="#0000ff" stroke-width="3.5" stroke-linejoin="round"/>
<path d="M574.3,1199.4a15.2,15.2 0 1,0 30.4,0a15.2,15.2 0 1,0 -30.4,0Z" fill="#0000ff" stroke="#0000ff" stroke-width="3.5" stroke-linejoin="round"/>
<path d="M627.1,1194.7a15.2,15.2 0 1,0 30.4,0a15.2,15.2 0 1,0 -30.4,0Z" fill="#0000ff" stroke="#0000ff" stroke-width="3.5" stroke-linejoin="round"/>
<path d="M679.9,1191.1a15.2,15.2 0 1,0 30.4,0a15.2,15.2 0 1,0 -30.4,0Z" fill="#0000ff" stroke="#0000ff" stroke-width="3.5" stroke-linejoin="round"/>
<path d="M732.6,1187.8a15.2,15.2 0 1,0 30.4,0a15.2,15.2 0 1,0 -30.4,0Z" fill="#0000ff" stroke="#0000ff" stroke-width="3.5" stroke-linejoin="round"/>
<path d="M785.4,1186a15.2,15.2 0 1,0 30.4,0a15.2,15.2 0 1,0 -30.4,0Z" fill="#0000ff" stroke="#0000ff" stroke-width="3.5" stroke-linejoin="round"/>
<path d="M838.1,1185.1a15.2,15.2 0 1,0 30.4,0a15.2,15.2 0 1,0 -30.4,0Z" fill="#0000ff" stroke="#0000ff" stroke-width="3.5" stroke-linejoin="round"/>
<path d="M890.9,1186a15.2,15.2 0 1,0 30.4,0a15.2,15.2 0 1,0 -30.4,0Z" fill="#0000ff" stroke="#0000ff" stroke-width="3.5" stroke-linejoin="round"/>
<path d="M943.7,1184.1a15.2,15.2 0 1,0 30.4,0a15.2,15.2 0 1,0 -30.4,0Z" fill="#0000ff" stroke="#0000ff" stroke-width="3.5" stroke-linejoin="round"/>
<path d="M996.4,1181.4a15.2,15.2 0 1,0 30.4,0a15.2,15.2 0 1,0 -30.4,0Z" fill="#0000ff" stroke="#0000ff" stroke-width="3.5" stroke-linejoin="round"/>
<path d="M1049.2,1174.3a15.2,15.2 0 1,0 30.4,0a15.2,15.2 0 1,0 -30.4,0Z" fill="#0000ff" stroke="#0000ff" stroke-width="3.5" stroke-linejoin="round"/>
<path d="M1101.9,1119.6a15.2,15.2 0 1,0 30.4,0a15.2,15.2 0 1,0 -30.4,0Z" fill="#0000ff" stroke="#0000ff" stroke-width="3.5" stroke-linejoin="round"/>
<path d="M1154.7,1069.3a15.2,15.2 0 1,0 30.4,0a15.2,15.2 0 1,0 -30.4,0Z" fill="#0000ff" stroke="#0000ff" stroke-width="3.5" stroke-linejoin="round"/>
<path d="M1207.5,762.1a15.2,15.2 0 1,0 30.4,0a15.2,15.2 0 1,0 -30.4,0Z" fill="#0000ff" stroke="#0000ff" stroke-width="3.5" stroke-linejoin="round"/>
<path d="M382.7,1268.9 385.4,1251.3 388,1240.1 390.6,1230 393.3,1221.1 395.9,1218 398.5,1216.1 401.2,1214.7 403.8,1213.9 406.5,1213.3 409.1,1212.9 411.7,1212.5 414.4,1212.1 417,1211.9 419.7,1211.6 422.3,1211.4 424.9,1211.2 427.6,1211 430.2,1210.8 432.8,1210.6 435.5,1210.3 438.1,1210.2 440.8,1210 443.4,1209.8 446,1209.6 448.7,1209.4 451.3,1209.3 453.9,1209.1 456.6,1209 459.2,1208.8 461.9,1208.7 464.5,1208.5 467.1,1208.4 469.8,1208.2 472.4,1208.1 475.1,1207.9 477.7,1207.8 480.3,1207.6 483,1207.4 485.6,1207.3 488.2,1207.1 490.9,1206.9 493.5,1206.7 496.2,1206.5 498.8,1206.3 501.4,1206.1 504.1,1205.9 506.7,1205.7 509.3,1205.6 512,1205.4 514.6,1205.2 517.3,1205 519.9,1204.8 522.5,1204.6 525.2,1204.5 527.8,1204.3 530.4,1204.2 533.1,1204 535.7,1203.9 538.4,1203.8 541,1203.7 543.6,1203.6 546.3,1203.5 548.9,1203.4 551.6,1203.4 554.2,1203.3 556.8,1203.2 559.5,1203.1 562.1,1203.1 564.7,1203 567.4,1202.9 570,1202.9 572.7,1202.8 575.3,1202.7 577.9,1202.6 580.6,1202.6 583.2,1202.5 585.8,1202.4 588.5,1202.3 591.1,1202.1 593.8,1202 596.4,1201.8 599,1201.7 601.7,1201.5 604.3,1201.3 607,1201.1 609.6,1200.9 612.2,1200.6 614.9,1200.4 617.5,1200.2 620.1,1199.9 622.8,1199.7 625.4,1199.4 628.1,1199.2 630.7,1199 633.3,1198.7 636,1198.5 638.6,1198.3 641.2,1198.1 643.9,1197.8 646.5,1197.6 649.2,1197.4 651.8,1197.2 654.4,1197 657.1,1196.8 659.7,1196.6 662.3,1196.4 665,1196.2 667.6,1196 670.3,1195.9 672.9,1195.7 675.5,1195.5 678.2,1195.3 680.8,1195.1 683.5,1194.9 686.1,1194.7 688.7,1194.5 691.4,1194.3 694,1194.1 696.6,1193.9 699.3,1193.7 701.9,1193.5 704.6,1193.3 707.2,1193 709.8,1192.8 712.5,1192.6 715.1,1192.4 717.7,1192.1 720.4,1191.9 723,1191.7 725.7,1191.5 728.3,1191.3 730.9,1191.1 733.6,1190.9 736.2,1190.7 738.9,1190.5 741.5,1190.4 744.1,1190.2 746.8,1190.1 749.4,1190 752,1189.9 754.7,1189.7 757.3,1189.6 760,1189.5 762.6,1189.4 765.2,1189.3 767.9,1189.3 770.5,1189.2 773.1,1189.1 775.8,1189 778.4,1188.9 781.1,1188.8 783.7,1188.8 786.3,1188.7 789,1188.6 791.6,1188.5 794.2,1188.4 796.9,1188.3 799.5,1188.2 802.2,1188.1 804.8,1188 807.4,1187.9 810.1,1187.8 812.7,1187.7 815.4,1187.5 818,1187.4 820.6,1187.3 823.3,1187.2 825.9,1187 828.5,1186.9 831.2,1186.8 833.8,1186.7 836.5,1186.5 839.1,1186.4 841.7,1186.3 844.4,1186.2 847,1186.2 849.6,1186.1 852.3,1186 854.9,1186 857.6,1185.9 860.2,1185.9 862.8,1185.8 865.5,1185.8 868.1,1185.8 870.8,1185.7 873.4,1185.7 876,1185.7 878.7,1185.6 881.3,1185.6 883.9,1185.6 886.6,1185.6 889.2,1185.5 891.9,1185.5 894.5,1185.5 897.1,1185.4 899.8,1185.4 902.4,1185.3 905,1185.3 907.7,1185.2 910.3,1185.1 913,1185 915.6,1184.9 918.2,1184.8 920.9,1184.6 923.5,1184.5 926.1,1184.3 928.8,1184.2 931.4,1184 934.1,1183.8 936.7,1183.6 939.3,1183.4 942,1183.2 944.6,1183.1 947.3,1182.9 949.9,1182.7 952.5,1182.5 955.2,1182.3 957.8,1182.2 960.4,1182 963.1,1181.9 965.7,1181.8 968.4,1181.6 971,1181.5 973.6,1181.4 976.3,1181.3 978.9,1181.2 981.5,1181.1 984.2,1180.9 986.8,1180.8 989.5,1180.7 992.1,1180.6 994.7,1180.4 997.4,1180.3 1000,1180.1 1002.7,1179.9 1005.3,1179.7 1007.9,1179.5 1010.6,1179.3 1013.2,1179 1015.8,1178.7 1018.5,1178.3 1021.1,1177.8 1023.8,1177.3 1026.4,1176.7 1029,1176 1031.7,1175.3 1034.3,1174.5 1036.9,1173.7 1039.6,1172.8 1042.2,1171.9 1044.9,1170.9 1047.5,1169.9 1050.1,1168.8 1052.8,1167.7 1055.4,1166.5 1058,1165.3 1060.7,1164 1063.3,1162.7 1066,1161.4 1068.6,1159.9 1071.2,1158.2 1073.9,1156.3 1076.5,1154.2 1079.2,1152 1081.8,1149.6 1084.4,1147 1087.1,1144.3 1089.7,1141.4 1092.3,1138.3 1095,1135.1 1097.6,1131.8 1100.3,1128.2 1102.9,1124.6 1105.5,1120.8 1108.2,1116.8 1110.8,1112.8 1113.4,1108.5 1116.1,1104.2 1118.7,1099.1 1121.4,1092 1124,1085.6 1126.6,1081.2 1129.3,1077.3 1131.9,1074 1134.6,1071.3 1137.2,1069.6 1139.8,1068.4 1142.5,1067.6 1145.1,1067 1147.7,1066.4 1150.4,1065.7 1153,1064.9 1155.7,1063.7 1158.3,1061.8 1160.9,1058.9 1163.6,1055 1166.2,1050.2 1168.8,1044.8 1171.5,1038.4 1174.1,1029.5 1176.8,1018.5 1179.4,1006 1182,992.8 1184.7,979.2 1187.3,964.2 1189.9,947.3 1192.6,928.1 1195.2,904.1 1197.9,875.7 1200.5,848 1203.1,822.8 1205.8,797.1 1208.4,767.2 1211.1,732.9 1213.7,702.7 1216.3,673.7 1219,642.2 1221.6,603.7 1224.2,561 1226.9,521.4 1229.5,487.9 1232.2,454.5 1234.8,416.4 1237.4,374.3 1240.1,331 1242.7,286.5 1245.3,241.4 1248,197.7 1250.6,155.6 1253.3,110.1 1255.9,59.3" fill="none" stroke="#00ff00" stroke-width="9.0" stroke-linejoin="round" stroke-linecap="round"/>
<path d="M431.3,1189.5L450,1221.3L412.5,1221.3Z" fill="#00ff00" stroke="#00ff00" stroke-width="3.5" stroke-linejoin="round"/>
<path d="M484,1186.2L502.8,1218L465.3,1218Z" fill="#00ff00" stroke="#00ff00" stroke-width="3.5" stroke-linejoin="round"/>
<path d="M536.8,1182.7L555.5,1214.5L518,1214.5Z" fill="#00ff00" stroke="#00ff00" stroke-width="3.5" stroke-linejoin="round"/>
<path d="M589.5,1181L608.3,1212.8L570.8,1212.8Z" fill="#00ff00" stroke="#00ff00" stroke-width="3.5" stroke-linejoin="round"/>
<path d="M642.3,1176.8L661,1208.6L623.5,1208.6Z" fill="#00ff00" stroke="#00ff00" stroke-width="3.5" stroke-linejoin="round"/>
<path d="M695.1,1172.8L713.8,1204.6L676.3,1204.6Z" fill="#00ff00" stroke="#00ff00" stroke-width="3.5" stroke-linejoin="round"/>
<path d="M747.8,1168.9L766.6,1200.6L729.1,1200.6Z" fill="#00ff00" stroke="#00ff00" stroke-width="3.5" stroke-linejoin="round"/>
<path d="M800.6,1167L819.3,1198.8L781.8,1198.8Z" fill="#00ff00" stroke="#00ff00" stroke-width="3.5" stroke-linejoin="round"/>
<path d="M853.3,1164.8L872.1,1196.6L834.6,1196.6Z" fill="#00ff00" stroke="#00ff00" stroke-width="3.5" stroke-linejoin="round"/>
<path d="M906.1,1164.1L924.9,1195.8L887.4,1195.8Z" fill="#00ff00" stroke="#00ff00" stroke-width="3.5" stroke-linejoin="round"/>
<path d="M958.9,1161L977.6,1192.7L940.1,1192.7Z" fill="#00ff00" stroke="#00ff00" stroke-width="3.5" stroke-linejoin="round"/>
<path d="M1011.6,1158L1030.4,1189.8L992.9,1189.8Z" fill="#00ff00" stroke="#00ff00" stroke-width="3.5" stroke-linejoin="round"/>
<path d="M1064.4,1141L1083.1,1172.8L1045.6,1172.8Z" fill="#00ff00" stroke="#00ff00" stroke-width="3.5" stroke-linejoin="round"/>
<path d="M1117.1,1081.2L1135.9,1113L1098.4,1113Z" fill="#00ff00" stroke="#00ff00" stroke-width="3.5" stroke-linejoin="round"/>
<path d="M1169.9,1021.3L1188.7,1053.1L1151.2,1053.1Z" fill="#00ff00" stroke="#00ff00" stroke-width="3.5" stroke-linejoin="round"/>
<path d="M1222.7,565.8L1241.4,597.5L1203.9,597.5Z" fill="#00ff00" stroke="#00ff00" stroke-width="3.5" stroke-linejoin="round"/>
<path d="M380.6,1268.9 383.2,1253.6 385.9,1237.8 388.5,1227.4 391.2,1219.9 393.8,1214.5 396.4,1210.5 399.1,1208 401.7,1206.1 404.4,1204.7 407,1203.4 409.6,1202.3 412.3,1201.3 414.9,1200.5 417.5,1199.9 420.2,1199.5 422.8,1199.1 425.5,1198.8 428.1,1198.5 430.7,1198.4 433.4,1198.4 436,1198.4 438.6,1198.4 441.3,1198.4 443.9,1198.4 446.6,1198.4 449.2,1198.4 451.8,1198.4 454.5,1198.4 457.1,1198.4 459.8,1198.4 462.4,1198.4 465,1198.4 467.7,1198.4 470.3,1198.4 472.9,1198.4 475.6,1198.4 478.2,1198.4 480.9,1198.4 483.5,1198.4 486.1,1198.6 488.8,1199.1 491.4,1199.9 494,1201.1 496.7,1202.5 499.3,1204.2 502,1206.2 504.6,1208.3 507.2,1210.7 509.9,1213.1 512.5,1216.5 515.1,1221.9 517.8,1228.3 520.4,1234.8 523.1,1240.4 525.7,1244.9 528.3,1249.1 531,1252 533.6,1253.4 536.3,1254.2 538.9,1254.1 541.5,1253.7 544.2,1253.2 546.8,1252.5 549.4,1251.4 552.1,1249.5 554.7,1247 557.4,1244.3 560,1241.8 562.6,1239.8 565.3,1238.3 567.9,1237 570.5,1235.8 573.2,1234.6 575.8,1233.6 578.5,1232.6 581.1,1231.6 583.7,1230.7 586.4,1229.9 589,1229 591.7,1228.2 594.3,1227.4 596.9,1226.7 599.6,1226 602.2,1225.3 604.8,1224.7 607.5,1224 610.1,1223.4 612.8,1222.7 615.4,1222.1 618,1221.4 620.7,1220.6 623.3,1219.9 625.9,1219.2 628.6,1218.4 631.2,1217.7 633.9,1217 636.5,1216.3 639.1,1215.7 641.8,1215 644.4,1214.5 647,1213.9 649.7,1213.4 652.3,1212.9 655,1212.4 657.6,1211.9 660.2,1211.4 662.9,1210.9 665.5,1210.4 668.2,1209.9 670.8,1209.3 673.4,1208.7 676.1,1208.1 678.7,1207.5 681.3,1206.9 684,1206.2 686.6,1205.6 689.3,1205 691.9,1204.4 694.5,1203.8 697.2,1203.2 699.8,1202.7 702.4,1202.2 705.1,1201.6 707.7,1201.1 710.4,1200.6 713,1200.1 715.6,1199.6 718.3,1199 720.9,1198.5 723.6,1198 726.2,1197.5 728.8,1197 731.5,1196.4 734.1,1195.9 736.7,1195.4 739.4,1194.9 742,1194.4 744.7,1193.9 747.3,1193.4 749.9,1193 752.6,1192.6 755.2,1192.2 757.8,1191.8 760.5,1191.4 763.1,1191 765.8,1190.6 768.4,1190.2 771,1189.8 773.7,1189.5 776.3,1189.1 778.9,1188.7 781.6,1188.4 784.2,1188.1 786.9,1187.8 789.5,1187.4 792.1,1187.1 794.8,1186.9 797.4,1186.6 800.1,1186.3 802.7,1186.1 805.3,1185.8 808,1185.6 810.6,1185.4 813.2,1185.1 815.9,1184.9 818.5,1184.7 821.2,1184.5 823.8,1184.3 826.4,1184.1 829.1,1183.9 831.7,1183.7 834.3,1183.5 837,1183.4 839.6,1183.2 842.3,1183 844.9,1182.8 847.5,1182.7 850.2,1182.5 852.8,1182.3 855.5,1182.2 858.1,1182 860.7,1181.9 863.4,1181.7 866,1181.5 868.6,1181.4 871.3,1181.3 873.9,1181.1 876.6,1181 879.2,1180.8 881.8,1180.7 884.5,1180.6 887.1,1180.4 889.7,1180.3 892.4,1180.2 895,1180 897.7,1179.9 900.3,1179.7 902.9,1179.6 905.6,1179.5 908.2,1179.3 910.8,1179.2 913.5,1179.1 916.1,1178.9 918.8,1178.8 921.4,1178.7 924,1178.6 926.7,1178.4 929.3,1178.3 932,1178.2 934.6,1178 937.2,1177.9 939.9,1177.8 942.5,1177.6 945.1,1177.5 947.8,1177.4 950.4,1177.2 953.1,1177.1 955.7,1177 958.3,1176.8 961,1176.7 963.6,1176.5 966.2,1176.4 968.9,1176.2 971.5,1176.1 974.2,1176 976.8,1175.9 979.4,1175.7 982.1,1175.6 984.7,1175.4 987.4,1175.3 990,1175.1 992.6,1175 995.3,1174.8 997.9,1174.6 1000.5,1174.4 1003.2,1174.1 1005.8,1173.9 1008.5,1173.6 1011.1,1173.3 1013.7,1173 1016.4,1172.5 1019,1171.9 1021.6,1171.2 1024.3,1170.4 1026.9,1169.5 1029.6,1168.6 1032.2,1167.7 1034.8,1166.7 1037.5,1165.7 1040.1,1164.7 1042.7,1163.7 1045.4,1162.7 1048,1161.6 1050.7,1160.4 1053.3,1159.2 1055.9,1157.8 1058.6,1156.3 1061.2,1154.6 1063.9,1152.8 1066.5,1150.8 1069.1,1148.2 1071.8,1145.3 1074.4,1142.1 1077,1138.5 1079.7,1134.6 1082.3,1130.4 1085,1126.1 1087.6,1121.6 1090.2,1116.9 1092.9,1111.8 1095.5,1105.7 1098.1,1098.9 1100.8,1091.5 1103.4,1083.9 1106.1,1076.2 1108.7,1068.7 1111.3,1061.6 1114,1055.2 1116.6,1049.6 1119.3,1045 1121.9,1040.9 1124.5,1037.1 1127.2,1033.5 1129.8,1030.2 1132.4,1026.9 1135.1,1023.6 1137.7,1020.2 1140.4,1016.7 1143,1012.8 1145.6,1008.9 1148.3,1005.4 1150.9,1002 1153.5,998.4 1156.2,994.4 1158.8,989.8 1161.5,984.1 1164.1,977.2 1166.7,966 1169.4,946.9 1172,932.3 1174.6,916.7 1177.3,899.5 1179.9,880.2 1182.6,858.1 1185.2,829.9 1187.8,795.8 1190.5,764.5 1193.1,736.1 1195.8,704.7 1198.4,662.1 1201,619.9 1203.7,584.8 1206.3,551.4 1208.9,517.5 1211.6,484.9 1214.2,448.3 1216.9,398 1219.5,361.1 1222.1,329.9 1224.8,286.2 1227.4,237.7 1230,193.8 1232.7,150.4 1235.3,104.7 1238,56" fill="none" stroke="#ff0000" stroke-width="9.0" stroke-linejoin="round" stroke-linecap="round"/>
<path d="M404.9,1225.6L386.1,1193.8L423.6,1193.8Z" fill="#ff0000" stroke="#ff0000" stroke-width="3.5" stroke-linejoin="round"/>
<path d="M431.3,1219.6L412.5,1187.8L450,1187.8Z" fill="#ff0000" stroke="#ff0000" stroke-width="3.5" stroke-linejoin="round"/>
<path d="M457.6,1219.6L438.9,1187.8L476.4,1187.8Z" fill="#ff0000" stroke="#ff0000" stroke-width="3.5" stroke-linejoin="round"/>
<path d="M484,1219.6L465.3,1187.8L502.8,1187.8Z" fill="#ff0000" stroke="#ff0000" stroke-width="3.5" stroke-linejoin="round"/>
<path d="M510.4,1234.8L491.6,1203.1L529.1,1203.1Z" fill="#ff0000" stroke="#ff0000" stroke-width="3.5" stroke-linejoin="round"/>
<path d="M536.8,1275.4L518,1243.6L555.5,1243.6Z" fill="#ff0000" stroke="#ff0000" stroke-width="3.5" stroke-linejoin="round"/>
<path d="M563.2,1260.6L544.4,1228.9L581.9,1228.9Z" fill="#ff0000" stroke="#ff0000" stroke-width="3.5" stroke-linejoin="round"/>
<path d="M589.5,1250L570.8,1218.3L608.3,1218.3Z" fill="#ff0000" stroke="#ff0000" stroke-width="3.5" stroke-linejoin="round"/>
<path d="M615.9,1243.1L597.2,1211.3L634.7,1211.3Z" fill="#ff0000" stroke="#ff0000" stroke-width="3.5" stroke-linejoin="round"/>
<path d="M642.3,1236.1L623.5,1204.3L661,1204.3Z" fill="#ff0000" stroke="#ff0000" stroke-width="3.5" stroke-linejoin="round"/>
<path d="M668.7,1230.9L649.9,1199.2L687.4,1199.2Z" fill="#ff0000" stroke="#ff0000" stroke-width="3.5" stroke-linejoin="round"/>
<path d="M695.1,1224.8L676.3,1193.1L713.8,1193.1Z" fill="#ff0000" stroke="#ff0000" stroke-width="3.5" stroke-linejoin="round"/>
<path d="M721.4,1219.6L702.7,1187.8L740.2,1187.8Z" fill="#ff0000" stroke="#ff0000" stroke-width="3.5" stroke-linejoin="round"/>
<path d="M747.8,1214.5L729.1,1182.8L766.6,1182.8Z" fill="#ff0000" stroke="#ff0000" stroke-width="3.5" stroke-linejoin="round"/>
<path d="M774.2,1210.6L755.5,1178.8L793,1178.8Z" fill="#ff0000" stroke="#ff0000" stroke-width="3.5" stroke-linejoin="round"/>
<path d="M800.6,1207.4L781.8,1175.7L819.3,1175.7Z" fill="#ff0000" stroke="#ff0000" stroke-width="3.5" stroke-linejoin="round"/>
<path d="M827,1205.2L808.2,1173.5L845.7,1173.5Z" fill="#ff0000" stroke="#ff0000" stroke-width="3.5" stroke-linejoin="round"/>
<path d="M853.3,1203.5L834.6,1171.7L872.1,1171.7Z" fill="#ff0000" stroke="#ff0000" stroke-width="3.5" stroke-linejoin="round"/>
<path d="M879.7,1202L861,1170.2L898.5,1170.2Z" fill="#ff0000" stroke="#ff0000" stroke-width="3.5" stroke-linejoin="round"/>
<path d="M906.1,1200.6L887.4,1168.9L924.9,1168.9Z" fill="#ff0000" stroke="#ff0000" stroke-width="3.5" stroke-linejoin="round"/>
<path d="M932.5,1199.3L913.7,1167.6L951.2,1167.6Z" fill="#ff0000" stroke="#ff0000" stroke-width="3.5" stroke-linejoin="round"/>
<path d="M958.9,1197.9L940.1,1166.2L977.6,1166.2Z" fill="#ff0000" stroke="#ff0000" stroke-width="3.5" stroke-linejoin="round"/>
<path d="M985.2,1196.6L966.5,1164.8L1004,1164.8Z" fill="#ff0000" stroke="#ff0000" stroke-width="3.5" stroke-linejoin="round"/>
<path d="M1011.6,1194.4L992.9,1162.7L1030.4,1162.7Z" fill="#ff0000" stroke="#ff0000" stroke-width="3.5" stroke-linejoin="round"/>
<path d="M1038,1186.7L1019.2,1154.9L1056.8,1154.9Z" fill="#ff0000" stroke="#ff0000" stroke-width="3.5" stroke-linejoin="round"/>
<path d="M1064.4,1173.6L1045.6,1141.9L1083.1,1141.9Z" fill="#ff0000" stroke="#ff0000" stroke-width="3.5" stroke-linejoin="round"/>
<path d="M1090.8,1137.1L1072,1105.4L1109.5,1105.4Z" fill="#ff0000" stroke="#ff0000" stroke-width="3.5" stroke-linejoin="round"/>
<path d="M1117.1,1069.8L1098.4,1038.1L1135.9,1038.1Z" fill="#ff0000" stroke="#ff0000" stroke-width="3.5" stroke-linejoin="round"/>
<path d="M1143.5,1033.2L1124.8,1001.4L1162.3,1001.4Z" fill="#ff0000" stroke="#ff0000" stroke-width="3.5" stroke-linejoin="round"/>
<path d="M1169.9,964.8L1151.2,933L1188.7,933Z" fill="#ff0000" stroke="#ff0000" stroke-width="3.5" stroke-linejoin="round"/>
<path d="M1196.3,718.7L1177.5,687L1215,687Z" fill="#ff0000" stroke="#ff0000" stroke-width="3.5" stroke-linejoin="round"/>
<path d="M1222.7,343.6L1203.9,311.9L1241.4,311.9Z" fill="#ff0000" stroke="#ff0000" stroke-width="3.5" stroke-linejoin="round"/>
</g>
<rect x="1762" y="81.3" width="491.3000000000002" height="1259.7" fill="#fff" stroke="#000" stroke-width="2" shape-rendering="crispEdges"/>
<g shape-rendering="crispEdges">
<path d="M1770.6,293.6H1818.8M1861.5,293.6H1910" fill="none" stroke="#000000" stroke-width="9.0" stroke-linejoin="round" stroke-linecap="round"/>
<path d="M1826.7,280.1L1853.7,280.1L1853.7,307.1L1826.7,307.1Z" fill="#fff" stroke="#000000" stroke-width="3.2" stroke-linejoin="round"/>
<path d="M1770.6,370.1H1818.8M1861.5,370.1H1910" fill="none" stroke="#ff0000" stroke-width="9.0" stroke-linejoin="round" stroke-linecap="round"/>
<path d="M1825,370.1a15.2,15.2 0 1,0 30.4,0a15.2,15.2 0 1,0 -30.4,0Z" fill="#fff" stroke="#ff0000" stroke-width="3.2" stroke-linejoin="round"/>
<path d="M1770.6,446.7H1818.8M1861.5,446.7H1910" fill="none" stroke="#00ff00" stroke-width="9.0" stroke-linejoin="round" stroke-linecap="round"/>
<path d="M1840.2,425.5L1859,457.2L1821.5,457.2Z" fill="#fff" stroke="#00ff00" stroke-width="3.2" stroke-linejoin="round"/>
<path d="M1770.6,523.2H1818.8M1861.5,523.2H1910" fill="none" stroke="#0000ff" stroke-width="9.0" stroke-linejoin="round" stroke-linecap="round"/>
<path d="M1840.2,544.4L1821.5,512.6L1859,512.6Z" fill="#fff" stroke="#0000ff" stroke-width="3.2" stroke-linejoin="round"/>
<path d="M1770.6,599.7H1818.8M1861.5,599.7H1910" fill="none" stroke="#00ffff" stroke-width="9.0" stroke-linejoin="round" stroke-linecap="round"/>
<path d="M1840.2,579.8L1860.1,599.7L1840.2,619.6L1820.3,599.7Z" fill="#fff" stroke="#00ffff" stroke-width="3.2" stroke-linejoin="round"/>
<path d="M1770.6,676.2H1818.8M1861.5,676.2H1910" fill="none" stroke="#ff00ff" stroke-width="9.0" stroke-linejoin="round" stroke-linecap="round"/>
<path d="M1819,676.2L1850.8,657.5L1850.8,695Z" fill="#fff" stroke="#ff00ff" stroke-width="3.2" stroke-linejoin="round"/>
<path d="M1770.6,752.8H1818.8M1861.5,752.8H1910" fill="none" stroke="#808000" stroke-width="9.0" stroke-linejoin="round" stroke-linecap="round"/>
<path d="M1861.4,752.8L1829.6,771.5L1829.6,734Z" fill="#fff" stroke="#808000" stroke-width="3.2" stroke-linejoin="round"/>
<path d="M1770.6,829.3H1818.8M1861.5,829.3H1910" fill="none" stroke="#000080" stroke-width="9.0" stroke-linejoin="round" stroke-linecap="round"/>
<path d="M1840.2,812.2L1855,820.8L1855,837.9L1840.2,846.4L1825.4,837.9L1825.4,820.8Z" fill="#fff" stroke="#000080" stroke-width="3.2" stroke-linejoin="round"/>
<path d="M1770.6,1068.6H1799.5M1861.7,1068.6H1891.3" fill="none" stroke="#000000" stroke-width="9.0" stroke-linejoin="round" stroke-linecap="round"/>
<path d="M1826.7,1055.1L1853.7,1055.1L1853.7,1082.1L1826.7,1082.1Z" fill="#000000" stroke="#000000" stroke-width="3.5" stroke-linejoin="round"/>
<path d="M1770.6,1145.1H1799.5M1861.7,1145.1H1891.3" fill="none" stroke="#0000ff" stroke-width="9.0" stroke-linejoin="round" stroke-linecap="round"/>
<path d="M1825,1145.1a15.2,15.2 0 1,0 30.4,0a15.2,15.2 0 1,0 -30.4,0Z" fill="#0000ff" stroke="#0000ff" stroke-width="3.5" stroke-linejoin="round"/>
<path d="M1770.6,1221.7H1799.5M1861.7,1221.7H1891.3" fill="none" stroke="#00ff00" stroke-width="9.0" stroke-linejoin="round" stroke-linecap="round"/>
<path d="M1840.2,1200.5L1859,1232.2L1821.5,1232.2Z" fill="#00ff00" stroke="#00ff00" stroke-width="3.5" stroke-linejoin="round"/>
<path d="M1770.6,1298.2H1799.5M1861.7,1298.2H1891.3" fill="none" stroke="#ff0000" stroke-width="9.0" stroke-linejoin="round" stroke-linecap="round"/>
<path d="M1840.2,1319.4L1821.5,1287.6L1859,1287.6Z" fill="#ff0000" stroke="#ff0000" stroke-width="3.5" stroke-linejoin="round"/>
</g>
<g filter="url(#bin)">
<g font-size="100">
<text transform="translate(378.8,1350) scale(1,1.02)" text-anchor="middle">0.0</text>
<text transform="translate(642.6,1350) scale(1,1.02)" text-anchor="middle">0.5</text>
<text transform="translate(906.4,1350) scale(1,1.02)" text-anchor="middle">1.0</text>
<text transform="translate(1170.2,1350) scale(1,1.02)" text-anchor="middle">1.5</text>
<text transform="translate(1434,1350) scale(1,1.02)" text-anchor="middle">2.0</text>
<text transform="translate(1697.8,1350) scale(1,1.02)" text-anchor="middle">2.5</text>
<text transform="translate(356.3,1280.9) scale(1,1.02)" text-anchor="end">0.0</text>
<text transform="translate(356.3,1050.5) scale(1,1.02)" text-anchor="end">2.5</text>
<text transform="translate(356.3,820.1) scale(1,1.02)" text-anchor="end">5.0</text>
<text transform="translate(356.3,589.7) scale(1,1.02)" text-anchor="end">7.5</text>
<text transform="translate(356.3,359.3) scale(1,1.02)" text-anchor="end">10.0</text>
<text transform="translate(356.3,128.9) scale(1,1.02)" text-anchor="end">12.5</text>
</g>
<text x="951" y="1464.4" font-size="100" font-weight="bold"><tspan font-style="italic">V</tspan><tspan dx="-4"> (V)</tspan></text>
<text transform="translate(128.3,936.5) rotate(-90)" font-size="100" font-weight="bold"><tspan font-style="italic">J</tspan><tspan dx="1"> (mA </tspan><tspan dx="7">cm</tspan><tspan font-size="83.5" dy="-41.4" dx="-2">-2</tspan><tspan dy="41.4" dx="4">)</tspan></text>
<g font-size="62.3">
<text x="1769" y="146.7" font-weight="bold">(A)CIGS</text>
<text x="1769" y="223.6" font-weight="bold"><tspan font-style="italic">E</tspan><tspan font-style="italic" font-size="50" dy="18">g</tspan><tspan dy="-18" dx="-3.7"> (eV)</tspan></text>
<text x="1926" y="313.9">1.08</text>
<text x="1926" y="390.4">1.15</text>
<text x="1926" y="467">1.16</text>
<text x="1926" y="543.5">1.17</text>
<text x="1926" y="620">1.19</text>
<text x="1926" y="696.5">1.22</text>
<text x="1926" y="773.1">1.24</text>
<text x="1926" y="849.6">1.25</text>
<text x="1772" y="932.8" font-weight="bold">NiMo<tspan stroke="#000" stroke-width="1.7">–</tspan>NiO</text>
<text x="1772" y="1011.5" font-weight="bold">Temperature (°C)</text>
<text x="1925" y="1088.9">25</text>
<text x="1925" y="1165.4">35</text>
<text x="1925" y="1242">45</text>
<text x="1925" y="1318.5">60</text>
</g>
</g>
</svg></body></html>
